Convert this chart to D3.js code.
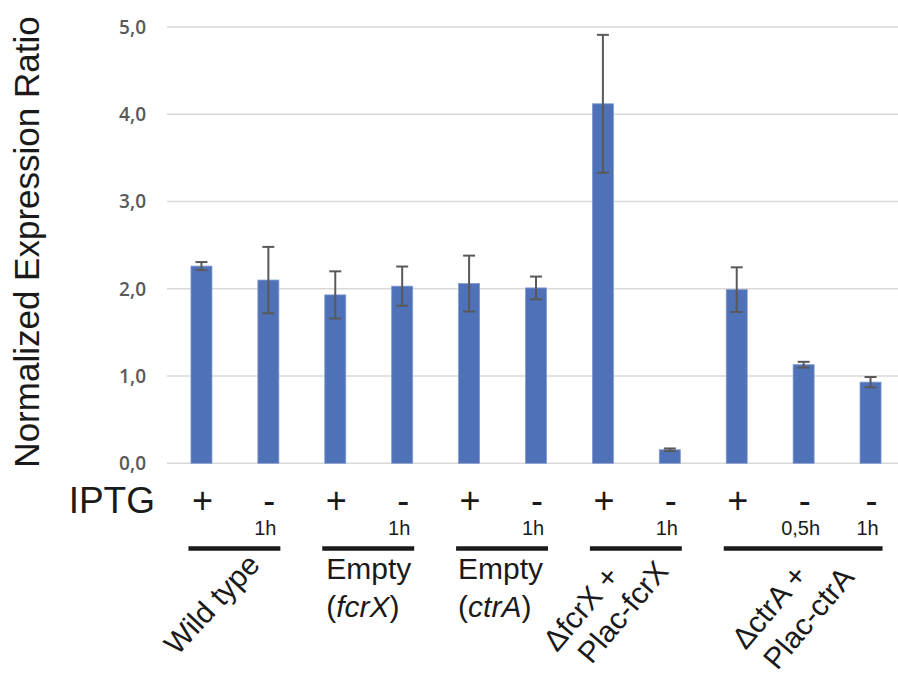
<!DOCTYPE html>
<html>
<head>
<meta charset="utf-8">
<script src="https://cdn.jsdelivr.net/npm/d3@7"></script>
<style>
  html, body { margin: 0; padding: 0; background: #fff; }
  svg { display: block; }
  .tick-label { font-family: "Open Sans", sans-serif; font-weight: 600; font-size: 19px; fill: #595959; }
  .lab { font-family: "Liberation Sans", Arial, sans-serif; fill: #1a1a1a; }
</style>
</head>
<body>
<div class="svg-wrapper"></div>
<script>
// data
var conditions = ["wt_plus", "wt_minus", "ef_plus", "ef_minus", "ec_plus", "ec_minus",
                  "df_plus", "df_minus", "dc_plus", "dc_minus05", "dc_minus1"];
var iptg   = ["+", "-", "+", "-", "+", "-", "+", "-", "+", "-", "-"];
var times  = ["", "1h", "", "1h", "", "1h", "", "1h", "", "0,5h", "1h"];
var means  = [2.26, 2.10, 1.93, 2.03, 2.06, 2.01, 4.12, 0.155, 1.99, 1.13, 0.93];
var errors = [0.046, 0.38, 0.27, 0.225, 0.32, 0.13, 0.79, 0.015, 0.256, 0.033, 0.059];
var yTicks = [0, 1, 2, 3, 4, 5];

var groupFirst = [0, 2, 4, 6, 8];
var groupLast  = [1, 3, 5, 7, 10];
var groupLines = [["Wild type"], ["Empty", "(|fcrX|)"], ["Empty", "(|ctrA|)"],
                  ["\u0394fcrX +", "Plac-fcrX"], ["\u0394ctrA +", "Plac-ctrA"]];

// label placement (layout, not data)
var groupLayout = [
  { rot: -47, pos: [[-7, 566]] },
  { rot: 0,   pos: [[-9, 579], [-9, 617]] },
  { rot: 0,   pos: [[-11, 579], [-11, 617]] },
  { rot: -50, pos: [[-49, 577], [0, 572]] },
  { rot: -50, pos: [[-62, 576], [-15, 578]] }
];

var width = 898, height = 678;

var svg = d3.select(".svg-wrapper").append("svg")
  .attr("width", width)
  .attr("height", height);

var xScale = d3.scaleBand()
  .domain(conditions)
  .range([168, 904])
  .paddingInner(0.686)
  .paddingOuter(0.343);

var yScale = d3.scaleLinear()
  .domain([0, 5])
  .range([463.3, 27]);

var fmt = d3.formatLocale({ decimal: ",", thousands: ".", grouping: [3], currency: ["", ""] }).format(".1f");

function cx(i) { return xScale(conditions[i]) + xScale.bandwidth() / 2; }

// gridlines
svg.append("g").selectAll("line")
  .data(yTicks)
  .enter().append("line")
    .attr("x1", 167).attr("x2", width)
    .attr("y1", function(d) { return yScale(d); })
    .attr("y2", function(d) { return yScale(d); })
    .attr("stroke", "#d9d9d9")
    .attr("stroke-width", 1.6);

// y tick labels
svg.append("g").selectAll("text")
  .data(yTicks)
  .enter().append("text")
    .attr("class", "tick-label")
    .attr("x", 146)
    .attr("y", function(d) { return yScale(d); })
    .attr("dy", "0.36em")
    .attr("text-anchor", "end")
    .text(function(d) { return fmt(d); });

// y title
svg.append("text")
  .attr("class", "lab")
  .attr("transform", "translate(39,242) rotate(-90)")
  .attr("text-anchor", "middle")
  .style("font-size", "35px")
  .text("Normalized Expression Ratio");

// bars
svg.append("g").selectAll("rect")
  .data(means)
  .enter().append("rect")
    .attr("x", function(d, i) { return xScale(conditions[i]); })
    .attr("y", function(d) { return yScale(d); })
    .attr("width", xScale.bandwidth())
    .attr("height", function(d) { return yScale(0) - yScale(d); })
    .attr("fill", "#4f71b8")
    .attr("stroke", "#7f9ad0")
    .attr("stroke-width", 0.8);

// error bars
var eb = svg.append("g")
  .attr("stroke", "#595959")
  .attr("stroke-width", 2);

means.forEach(function(m, i) {
  var x = cx(i), top = yScale(m + errors[i]), bot = yScale(m - errors[i]);
  eb.append("line").attr("x1", x).attr("x2", x).attr("y1", top).attr("y2", bot);
  eb.append("line").attr("x1", x - 6).attr("x2", x + 6).attr("y1", top).attr("y2", top);
  eb.append("line").attr("x1", x - 6).attr("x2", x + 6).attr("y1", bot).attr("y2", bot);
});

// IPTG row
svg.append("text")
  .attr("class", "lab")
  .attr("x", 155).attr("y", 513)
  .attr("text-anchor", "end")
  .style("font-size", "37px")
  .text("IPTG");

svg.append("g").selectAll("text")
  .data(iptg)
  .enter().append("text")
    .attr("class", "lab")
    .attr("x", function(d, i) { return cx(i) + 1; })
    .attr("y", 513)
    .attr("text-anchor", "middle")
    .style("font-size", "36px")
    .text(function(d) { return d; });

svg.append("g").selectAll("text")
  .data(times)
  .enter().append("text")
    .attr("class", "lab")
    .attr("x", function(d, i) { return cx(i) - 3; })
    .attr("y", 535)
    .attr("text-anchor", "middle")
    .style("font-size", "20px")
    .text(function(d) { return d; });

// group brackets
svg.append("g").selectAll("line")
  .data(groupFirst)
  .enter().append("line")
    .attr("x1", function(d) { return cx(d) - 13; })
    .attr("x2", function(d, i) { return cx(groupLast[i]) + 12; })
    .attr("y1", 548.5).attr("y2", 548.5)
    .attr("stroke", "#1a1a1a")
    .attr("stroke-width", 4.5);

// group labels
groupLines.forEach(function(lines, gi) {
  var lay = groupLayout[gi];
  lines.forEach(function(str, li) {
    var p = lay.pos[li];
    var t = svg.append("text")
      .attr("class", "lab")
      .style("font-size", "30px");
    if (lay.rot) {
      t.attr("transform", "translate(" + (cx(groupLast[gi]) + p[0]) + "," + p[1] + ") rotate(" + lay.rot + ")")
        .attr("text-anchor", "end");
    } else {
      t.attr("x", cx(groupFirst[gi]) + p[0]).attr("y", p[1]);
    }
    str.split("|").forEach(function(part, k) {
      t.append("tspan")
        .style("font-style", k % 2 ? "italic" : "normal")
        .text(part);
    });
  });
});
</script>
</body>
</html>
